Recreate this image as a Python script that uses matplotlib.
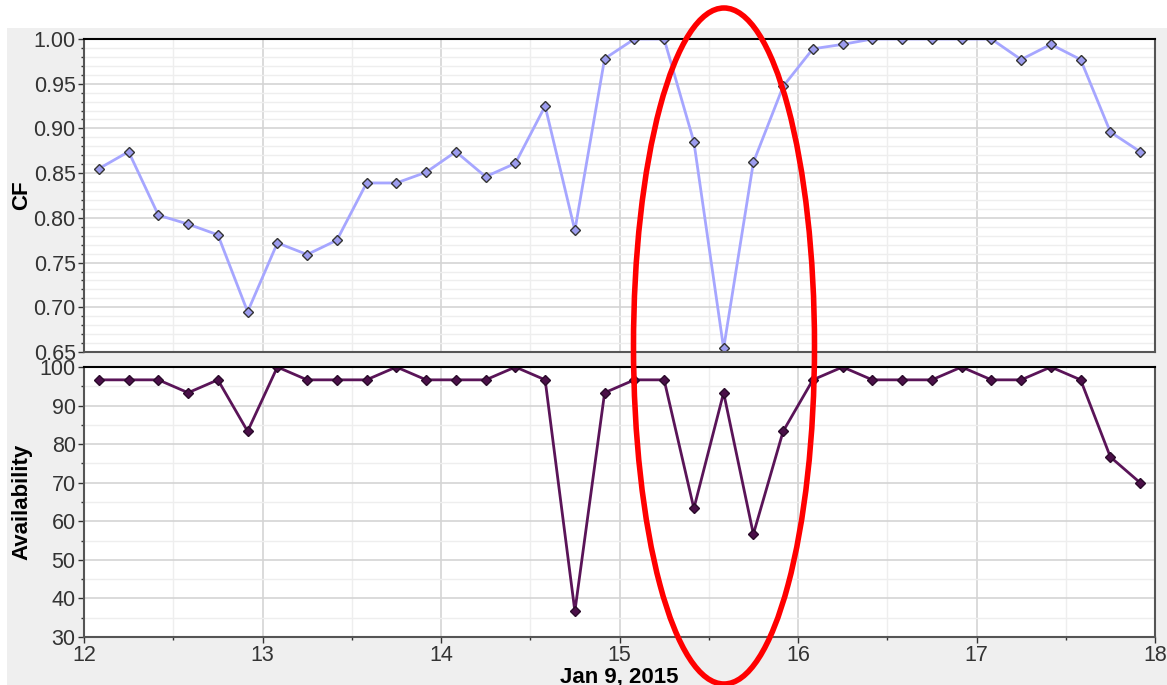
import numpy as np
import matplotlib.pyplot as plt
from matplotlib.patches import Ellipse, Rectangle
from matplotlib.ticker import MultipleLocator

plt.rcParams['font.family'] = ['Liberation Sans', 'DejaVu Sans']

# readings every 4 hours, starting 02:00 on day 12
dias = 12 + (2 + 4 * np.arange(36)) / 24.0

cf = [0.855, 0.874, 0.803, 0.793, 0.781, 0.695, 0.772, 0.759, 0.775, 0.839,
      0.839, 0.851, 0.874, 0.846, 0.861, 0.925, 0.786, 0.978, 1.000, 1.000,
      0.885, 0.654, 0.862, 0.947, 0.989, 0.994, 1.000, 1.000, 1.000, 1.000,
      1.000, 0.977, 0.994, 0.977, 0.896, 0.874]

disponibilidad = [96.67, 96.67, 96.67, 93.33, 96.67, 83.33, 100.0, 96.67, 96.67, 96.67,
                  100.0, 96.67, 96.67, 96.67, 100.0, 96.67, 36.67, 93.33, 96.67, 96.67,
                  63.33, 93.33, 56.67, 83.33, 96.67, 100.0, 96.67, 96.67, 96.67, 100.0,
                  96.67, 96.67, 100.0, 96.67, 76.67, 70.0]

fig = plt.figure(figsize=(11.67, 6.85), dpi=100, facecolor='white')
# panel gris de fondo
fig.patches.append(Rectangle((7 / 1167, 0), 1, 1 - 28 / 685, transform=fig.transFigure,
                             facecolor='#efefef', edgecolor='none', zorder=-10))

ax1 = fig.add_axes([84 / 1167, 1 - 352 / 685, (1155 - 84) / 1167, (352 - 39) / 685])
ax2 = fig.add_axes([84 / 1167, 1 - 637 / 685, (1155 - 84) / 1167, (637 - 367) / 685])


def estilo(ax):
    ax.set_facecolor('white')
    ax.set_xlim(12, 18)
    ax.xaxis.set_major_locator(MultipleLocator(1))
    ax.xaxis.set_minor_locator(MultipleLocator(0.5))
    ax.grid(True, which='major', color='#d4d4d4', lw=1.2)
    ax.grid(True, which='minor', color='#eeeeee', lw=1.0)
    ax.set_axisbelow(True)
    for s in ax.spines.values():
        s.set_color('#555555')
        s.set_linewidth(1.5)
    ax.spines['top'].set_color('black')
    ax.tick_params(axis='both', which='major', labelsize=15.5, colors='#333333',
                   length=4, width=1, pad=2)
    ax.tick_params(axis='both', which='minor', length=2, width=1, colors='#333333')


estilo(ax1)
ax1.plot(dias, cf, color='#a6a6ff', lw=2, marker='D', ms=5.5,
         mfc='#9c9cee', mec='#333333', mew=1)
ax1.set_ylim(0.65, 1.0)
ax1.yaxis.set_major_locator(MultipleLocator(0.05))
ax1.yaxis.set_minor_locator(MultipleLocator(0.01))
ax1.yaxis.set_major_formatter(plt.FormatStrFormatter('%.2f'))
ax1.tick_params(axis='x', which='both', labelbottom=False, length=0)
ax1.set_ylabel('CF', fontsize=16, fontweight='bold')

estilo(ax2)
ax2.plot(dias, disponibilidad, color='#5a1458', lw=2, marker='D', ms=5.5,
         mfc='#4a0f48', mec='#2a0a2a', mew=1)
ax2.set_ylim(30, 100)
ax2.yaxis.set_major_locator(MultipleLocator(10))
ax2.yaxis.set_minor_locator(MultipleLocator(5))
ax2.set_ylabel('Availability', fontsize=16, fontweight='bold')
ax2.set_xlabel('Jan 9, 2015', fontsize=16, fontweight='bold', labelpad=0)

ax1.yaxis.set_label_coords(-0.048, 0.5)
ax2.yaxis.set_label_coords(-0.048, 0.5)

# marca roja sobre el periodo 15-16
fig.patches.append(Ellipse((724 / 1167, 1 - 346 / 685), 181 / 1167, 676 / 685,
                           transform=fig.transFigure, facecolor='none',
                           edgecolor='#ff0000', lw=4, zorder=10))

plt.savefig('out.png', dpi=100, facecolor=fig.get_facecolor())
